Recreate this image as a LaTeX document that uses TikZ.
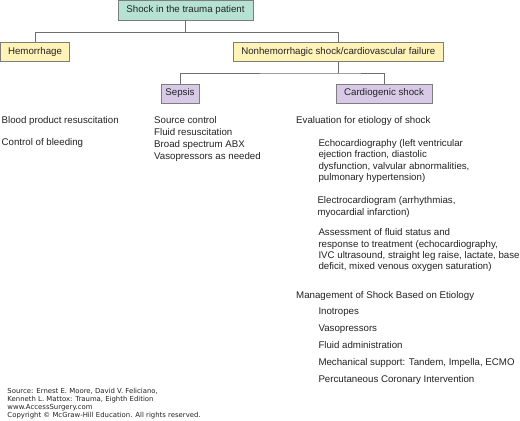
\documentclass[tikz,border=0pt]{standalone}
\usepackage{fontspec}
\setmainfont{Liberation Sans}
\newfontfamily\footfont{DejaVu Sans}
\definecolor{tealbox}{RGB}{182,226,212}
\definecolor{yellowbox}{RGB}{255,243,184}
\definecolor{purplebox}{RGB}{216,202,230}
\definecolor{edgegray}{RGB}{125,125,125}
\definecolor{linegray}{RGB}{110,110,110}
\definecolor{txt}{RGB}{35,35,35}
\begin{document}
\begin{tikzpicture}[x=1bp,y=-1bp,
  boxstyle/.style={draw=edgegray,line width=0.9bp,inner sep=0,text height=6.9bp,text depth=2bp,
    font=\fontsize{9.7bp}{11.5bp}\selectfont,text=txt},
  conn/.style={draw=linegray,line width=0.8bp},
  itemtext/.style={anchor=base west,inner sep=0,font=\fontsize{9.7bp}{11.5bp}\selectfont,text=txt},
  foottext/.style={anchor=base west,inner sep=0,font=\footfont\fontsize{6.9bp}{8bp}\selectfont,text=txt}]
\useasboundingbox (0,0) rectangle (520,420);
\fill[white] (0,0) rectangle (520,420);

% boxes
\node[boxstyle,fill=tealbox,minimum width=135bp,minimum height=20bp] (top) at (185.5,10) {Shock in the trauma patient};
\node[boxstyle,fill=yellowbox,minimum width=69bp,minimum height=19.5bp] (hem) at (35,52) {Hemorrhage};
\node[boxstyle,fill=yellowbox,minimum width=210bp,minimum height=19.5bp] (non) at (338.3,52) {Nonhemorrhagic shock/cardiovascular failure};
\node[boxstyle,fill=purplebox,minimum width=38bp,minimum height=19bp] (sep) at (180,93.5) {Sepsis};
\node[boxstyle,fill=purplebox,minimum width=96bp,minimum height=19bp] (card) at (384,93.5) {Cardiogenic shock};

% connectors
\path[conn] (top.south) -- ++(0,12) coordinate (j1);
\path[conn] (hem.north) |- (j1) -| (non.north);
\path[conn] (non.south) -- ++(0,10.8) coordinate (j2);
\path[conn] (sep.north) |- (j2) -| (card.north);

% left column
\node[itemtext] (l1) at (1.5,123.3) {Blood product resuscitation};
\node[itemtext] (l2) at (1.5,145) {Control of bleeding};

% sepsis column
\node[itemtext] (s1) at (154,123.3) {Source control};
\node[itemtext] (s2) at (154,135.2) {Fluid resuscitation};
\node[itemtext] (s3) at (154,147.1) {Broad spectrum ABX};
\node[itemtext] (s4) at (154,159) {Vasopressors as needed};

% cardiogenic column
\node[itemtext] (c0) at (296,123.3) {Evaluation for etiology of shock};
\node[itemtext] (e1) at (318.3,146) {Echocardiography (left ventricular};
\node[itemtext] (e2) at (318.3,157.5) {ejection fraction, diastolic};
\node[itemtext] (e3) at (318.3,169) {dysfunction, valvular abnormalities,};
\node[itemtext] (e4) at (318.3,180.5) {pulmonary hypertension)};
\node[itemtext] (k1) at (317.3,203.6) {Electrocardiogram (arrhythmias,};
\node[itemtext] (k2) at (317.3,215.1) {myocardial infarction)};
\node[itemtext] (a1) at (318.3,235.6) {Assessment of fluid status and};
\node[itemtext] (a2) at (318.3,247) {response to treatment (echocardiography,};
\node[itemtext] (a3) at (318.3,258.3) {IVC ultrasound, straight leg raise, lactate, base};
\node[itemtext] (a4) at (318.3,269.6) {deficit, mixed venous oxygen saturation)};
\node[itemtext] (m0) at (296,298.3) {Management of Shock Based on Etiology};
\node[itemtext] (m1) at (318.3,314.8) {Inotropes};
\node[itemtext] (m2) at (318.3,331.8) {Vasopressors};
\node[itemtext] (m3) at (318.3,348.8) {Fluid administration};
\node[itemtext] (m4) at (318.3,365.8) {Mechanical support: Tandem, Impella, ECMO};
\node[itemtext] (m5) at (318.3,382.8) {Percutaneous Coronary Intervention};

% footer
\node[foottext] (f1) at (7.3,393.3) {Source: Ernest E. Moore, David V. Feliciano,};
\node[foottext] (f2) at (7.3,401.3) {Kenneth L. Mattox: Trauma, Eighth Edition};
\node[foottext] (f3) at (7.3,409.5) {www.AccessSurgery.com};
\node[foottext] (f4) at (7.3,417.3) {Copyright © McGraw-Hill Education. All rights reserved.};
\end{tikzpicture}
\end{document}
